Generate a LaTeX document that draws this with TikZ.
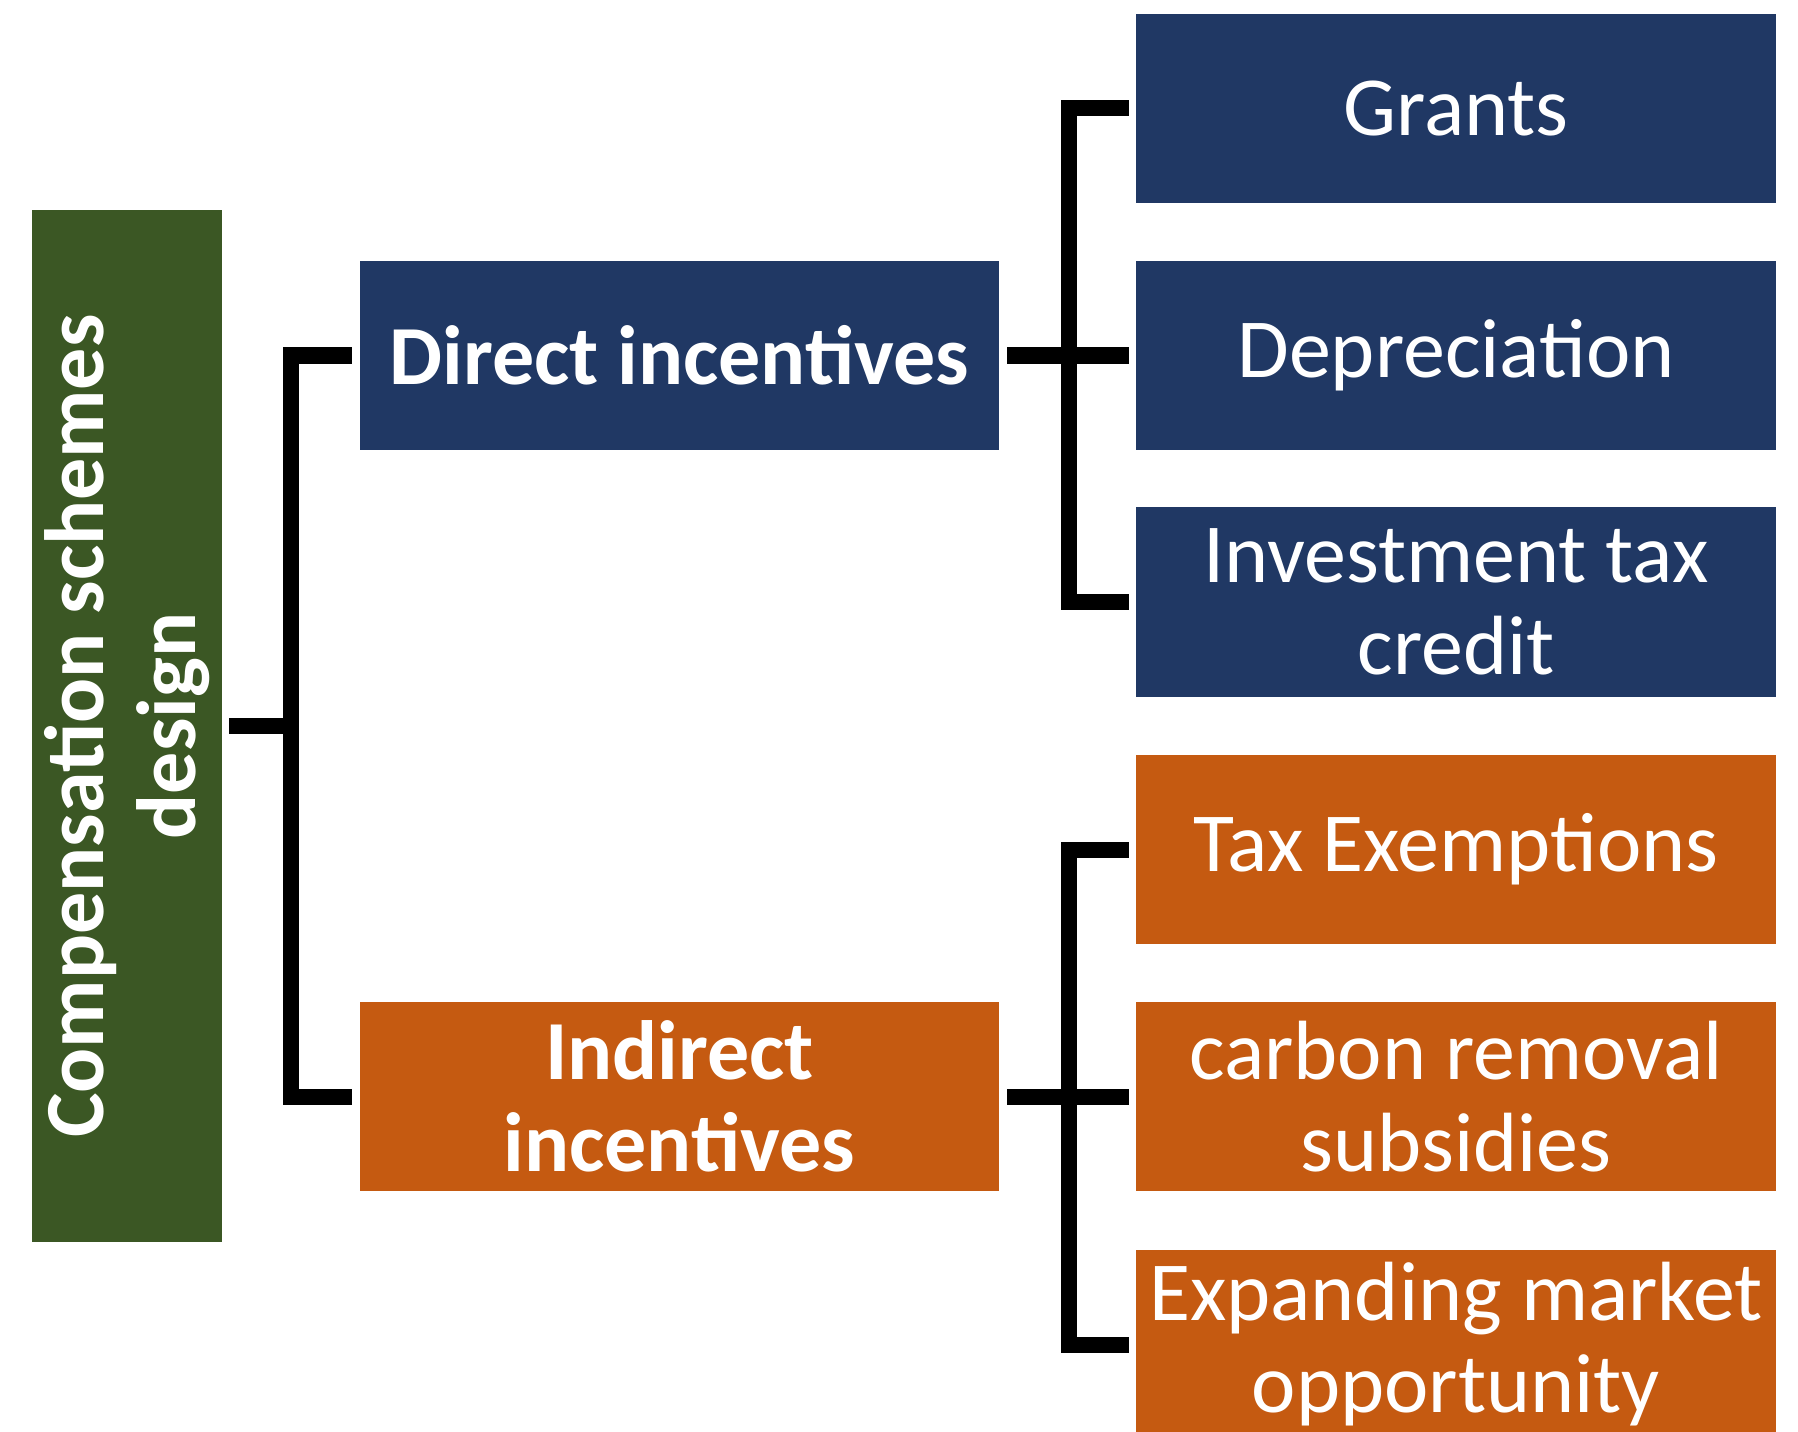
\documentclass[tikz,border=0pt]{standalone}
\usepackage{fontspec}
\setmainfont{Carlito}
\usetikzlibrary{calc}
\definecolor{navy}{HTML}{203864}
\definecolor{rust}{HTML}{C55A11}
\definecolor{leaf}{HTML}{3B5724}
\begin{document}
\begin{tikzpicture}[x=0.01cm,y=-0.01cm,
  box/.style={inner sep=0pt, outer sep=0pt, minimum width=6.40cm, minimum height=1.89cm,
    text=white, align=center, font=\fontsize{23.9}{26.2}\selectfont},
  boldbox/.style={box, font=\fontsize{23.9}{26.2}\selectfont\bfseries},
  conn/.style={line width=0.16cm, black, line join=miter}]
\clip (0,0) rectangle (1798,1431);
\fill[white] (0,0) rectangle (1798,1431);
% root
\node[boldbox, fill=leaf, rotate=90, minimum width=10.32cm, minimum height=1.90cm] (root) at (127,726) {Compensation schemes\\design};
% middle level
\node[boldbox, fill=navy, minimum width=6.39cm] (direct) at (679.5,355.5) {Direct incentives};
\node[boldbox, fill=rust, minimum width=6.39cm] (indirect) at (679.5,1096.5) {Indirect\\incentives};
% right level
\node[box, fill=navy] (grants) at (1456,108.5) {Grants};
\node[box, fill=navy] (depr) at (1456,355.5) {Depreciation};
\node[box, fill=navy] (itc) at (1456,602) {Investment tax\\credit};
\node[box, fill=rust] (taxex) at (1456,849.5) {Tax Exemptions};
\node[box, fill=rust] (carbon) at (1456,1096.5) {carbon removal\\subsidies};
\node[box, fill=rust] (expand) at (1456,1344.5) {Expanding market\\opportunity};
% bracket axes
\coordinate (bx1) at (291,0);
\coordinate (bx2) at (1069,0);
% left bracket
\draw[conn] ([xshift=0.07cm]root.south) -- (bx1 |- root.south);
\draw[conn] ([xshift=-0.08cm]direct.west) -| (bx1 |- indirect.west) -- ([xshift=-0.08cm]indirect.west);
% top right bracket
\draw[conn] ([xshift=-0.07cm]grants.west) -| (bx2 |- itc.west) -- ([xshift=-0.07cm]itc.west);
\draw[conn] ([xshift=0.08cm]direct.east) -- ([xshift=-0.07cm]depr.west);
% bottom right bracket
\draw[conn] ([xshift=-0.07cm]taxex.west) -| (bx2 |- expand.west) -- ([xshift=-0.07cm]expand.west);
\draw[conn] ([xshift=0.08cm]indirect.east) -- ([xshift=-0.07cm]carbon.west);
\end{tikzpicture}
\end{document}
